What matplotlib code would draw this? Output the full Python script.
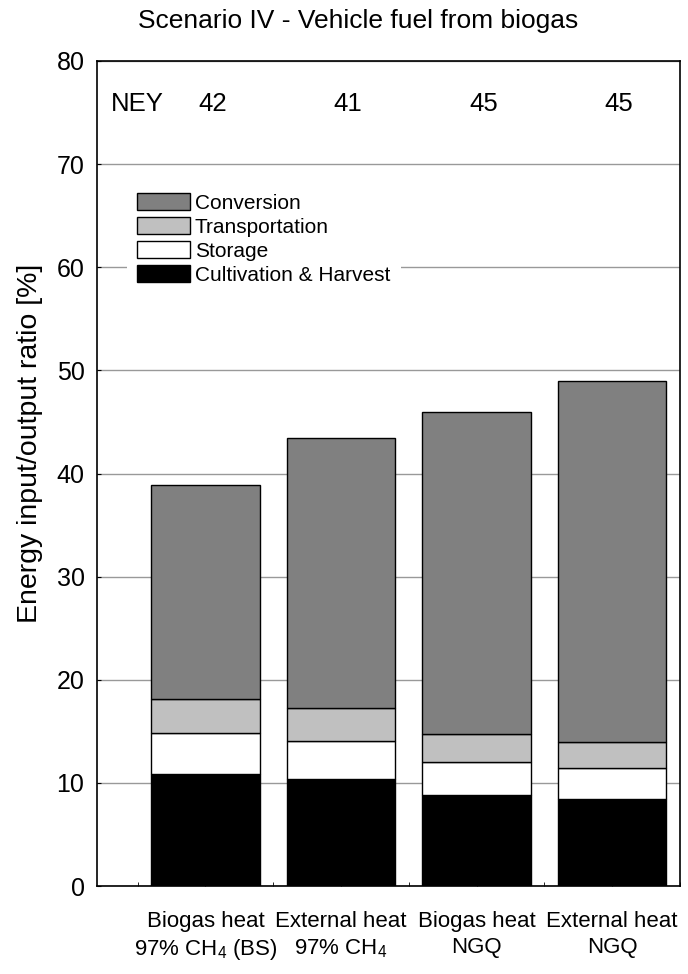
import numpy as np
import matplotlib
matplotlib.use("Agg")
import matplotlib.pyplot as plt
from matplotlib.patches import Patch

plt.rcParams["font.family"] = ["Liberation Sans", "DejaVu Sans"]
plt.rcParams["mathtext.default"] = "regular"

########  data  ########

cases = ["Biogas heat\n97% CH$_4$ (BS)", "External heat\n97% CH$_4$",
         "Biogas heat\nNGQ", "External heat\nNGQ"]
ney = [42, 41, 45, 45]

cultivation = [10.9, 10.4, 8.85, 8.4]
storage = [3.95, 3.7, 3.2, 3.0]
transportation = [3.25, 3.15, 2.65, 2.55]
conversion = [20.8, 26.15, 31.3, 35.0]

segments = [
    ("Cultivation & Harvest", cultivation, "black"),
    ("Storage", storage, "white"),
    ("Transportation", transportation, "#c0c0c0"),
    ("Conversion", conversion, "#808080"),
]

########  plot  ########

fig = plt.figure(figsize=(6.88, 9.74), dpi=100)
ax = fig.add_axes([97 / 688, 1 - 886 / 974, 583 / 688, 825 / 974])

x = np.arange(1, len(cases) + 1)
bottom = np.zeros(len(cases))
handles = []
for name, vals, col in segments:
    ax.bar(x, vals, width=0.8, bottom=bottom, color=col,
           edgecolor="black", linewidth=1.0, zorder=3)
    bottom += np.array(vals)
    handles.append(Patch(facecolor=col, edgecolor="black", linewidth=1.0, label=name))

ax.set_xlim(0.2, 4.5)
ax.set_ylim(0, 80)
ax.set_yticks(np.arange(0, 81, 10))
ax.yaxis.grid(True, color="#999999", linewidth=1.0)
ax.set_axisbelow(True)

ax.set_xticks(x)
ax.set_xticklabels(cases, fontsize=16, linespacing=1.3)
ax.set_xticks(np.arange(0.5, 4.6, 1.0), minor=True)
ax.tick_params(axis="x", which="both", direction="in", length=3, pad=18)
ax.tick_params(axis="y", direction="in", length=3, labelsize=18, pad=9)
for s in ax.spines.values():
    s.set_linewidth(1.2)

# net energy yield row
ax.text(0.3, 75.8, "NEY", fontsize=18.5, ha="left", va="center")
for xi, v in zip(x, ney):
    ax.text(xi + 0.05, 75.8, str(v), fontsize=18.5, ha="center", va="center")

leg = ax.legend(handles=handles[::-1], loc="upper left",
                bbox_to_anchor=((127 - 97) / 583, (886 - 183) / 825),
                borderaxespad=0, fontsize=15, frameon=True, fancybox=False,
                facecolor="white", edgecolor="none", framealpha=1,
                handlelength=2.5, handleheight=0.88, labelspacing=0.2,
                handletextpad=0.25, borderpad=0.5)
leg.set_zorder(4)

fig.text(358 / 688, 1 - 21 / 974, "Scenario IV - Vehicle fuel from biogas",
         fontsize=19, ha="center", va="center")
fig.text(30 / 688, 1 - 443 / 974, "Energy input/output ratio [%]",
         fontsize=20.5, rotation=90, ha="center", va="center")

plt.savefig("out.png", dpi=100)
plt.close()
